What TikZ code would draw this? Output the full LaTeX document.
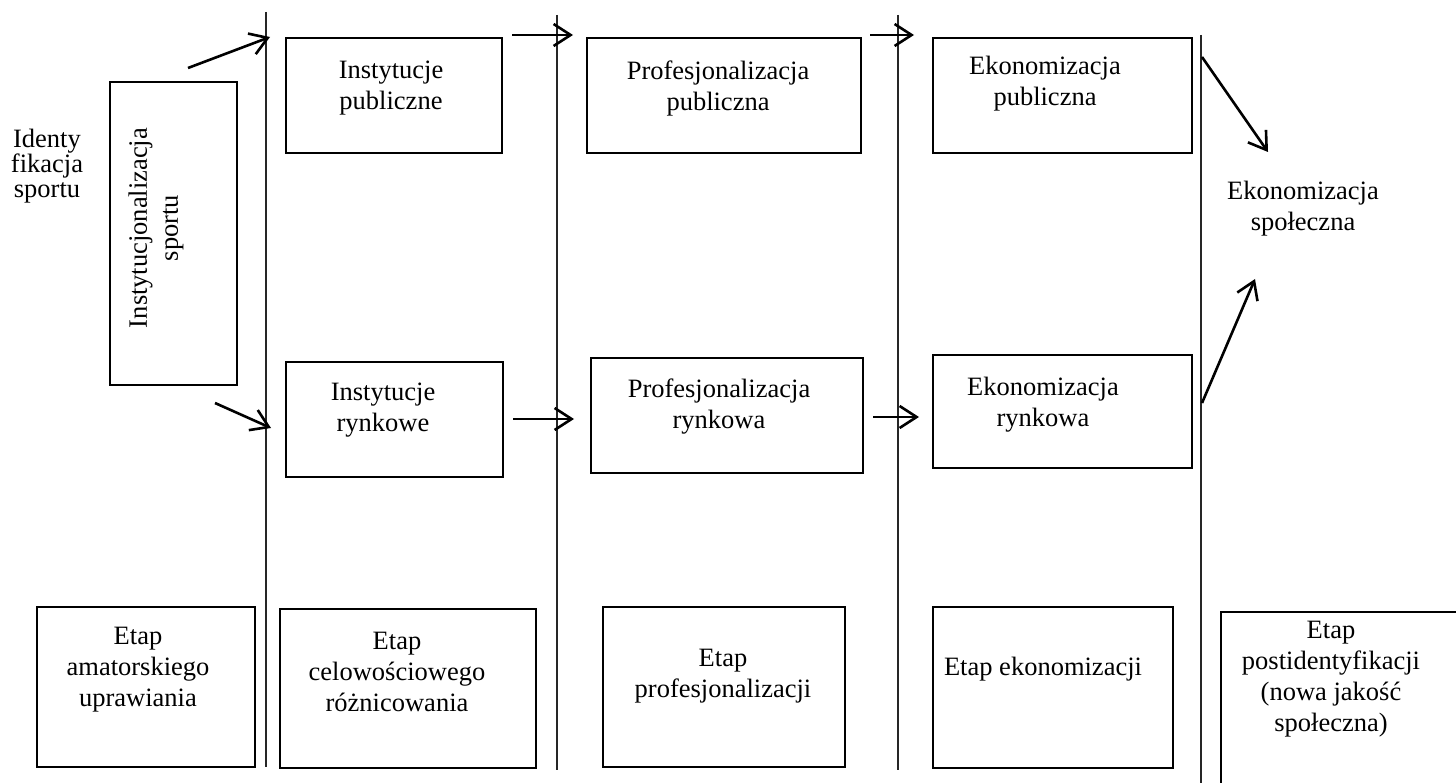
\documentclass[tikz,border=0pt]{standalone}
\usepackage{fontspec}
\setmainfont{Liberation Serif}
\usetikzlibrary{arrows.meta}
\tikzset{
  box/.style={draw, line width=2.8pt, inner sep=0pt, fill=none},
  txt/.style={align=center, inner sep=0pt, font=\fontsize{26.5}{31}\selectfont},
  sep/.style={line width=1.3pt, draw=black!85},
  arr/.style={line width=2.6pt, -{Straight Barb[length=17pt,width=22pt,line width=2.6pt]}}
}
\begin{document}
\begin{tikzpicture}[x=1pt,y=-1pt]
\useasboundingbox (0,0) rectangle (1456,783);
\clip (0,0) rectangle (1456,783);
\fill[white] (0,0) rectangle (1456,783);

% separators
\coordinate (v1t) at (266,12);  \coordinate (v1b) at (266,767);
\coordinate (v2t) at (557,15);  \coordinate (v2b) at (557,770);
\coordinate (v3t) at (898,15);  \coordinate (v3b) at (898,770);
\coordinate (v4t) at (1201,35); \coordinate (v4b) at (1201,790);
\draw[sep] (v1t) -- (v1b);
\draw[sep] (v2t) -- (v2b);
\draw[sep] (v3t) -- (v3b);
\draw[sep] (v4t) -- (v4b);

% left
\node[txt, font=\fontsize{26.5}{25}\selectfont] (ident) at (47,166) {Identy\\fikacja\\sportu};
\node[box, minimum width=127pt, minimum height=303pt] (inst) at (173.5,233.5) {};
\node[txt, rotate=90] (instt) at (156,228) {Instytucjonalizacja\\sportu};

% top row
\node[box, minimum width=216pt, minimum height=115pt] (b1) at (394,95.5) {};
\node[txt] (b1t) at (391,88) {Instytucje\\publiczne};
\node[box, minimum width=274pt, minimum height=115pt] (b2) at (724,95.5) {};
\node[txt] (b2t) at (718,88) {Profesjonalizacja\\publiczna};
\node[box, minimum width=259pt, minimum height=115pt] (b3) at (1062.5,95.5) {};
\node[txt] (b3t) at (1045,84) {Ekonomizacja\\publiczna};

% middle row
\node[box, minimum width=217pt, minimum height=115pt] (b4) at (394.5,419.5) {};
\node[txt] (b4t) at (383,410) {Instytucje\\rynkowe};
\node[box, minimum width=272pt, minimum height=115pt] (b5) at (727,415.5) {};
\node[txt] (b5t) at (719,407) {Profesjonalizacja\\rynkowa};
\node[box, minimum width=259pt, minimum height=113pt] (b6) at (1062.5,411.5) {};
\node[txt] (b6t) at (1043,405) {Ekonomizacja\\rynkowa};

% right
\node[txt] (spol) at (1303,209) {Ekonomizacja\\społeczna};

% bottom row
\node[box, minimum width=218pt, minimum height=160pt] (e1) at (146,687) {};
\node[txt] (e1t) at (138,670) {Etap\\amatorskiego\\uprawiania};
\node[box, minimum width=256pt, minimum height=159pt] (e2) at (408,688.5) {};
\node[txt] (e2t) at (397,672) {Etap\\celowościowego\\różnicowania};
\node[box, minimum width=242pt, minimum height=160pt] (e3) at (724,687) {};
\node[txt] (e3t) at (723,676) {Etap\\profesjonalizacji};
\node[box, minimum width=240pt, minimum height=161pt] (e4) at (1053,687.5) {};
\node[txt] (e4t) at (1043,669) {Etap ekonomizacji};
\node[box, minimum width=249pt, minimum height=188pt] (e5) at (1345.5,706) {};
\node[txt] (e5t) at (1331,679) {Etap\\postidentyfikacji\\(nowa jakość\\społeczna)};

% arrows
\coordinate (a1s) at (188,68);   \coordinate (a1e) at (270,37);
\coordinate (a2s) at (215,403);  \coordinate (a2e) at (271,428);
\coordinate (a3s) at (512,35);   \coordinate (a3e) at (573,35);
\coordinate (a4s) at (513,419);  \coordinate (a4e) at (574,419);
\coordinate (a5s) at (870,35);   \coordinate (a5e) at (914,35);
\coordinate (a6s) at (873,417);  \coordinate (a6e) at (919,417);
\coordinate (a7s) at (1202,57);  \coordinate (a7e) at (1268,152);
\coordinate (a8s) at (1202,403); \coordinate (a8e) at (1255,279);
\draw[arr] (a1s) -- (a1e);
\draw[arr] (a2s) -- (a2e);
\draw[arr] (a3s) -- (a3e);
\draw[arr] (a4s) -- (a4e);
\draw[arr] (a5s) -- (a5e);
\draw[arr] (a6s) -- (a6e);
\draw[arr] (a7s) -- (a7e);
\draw[arr] (a8s) -- (a8e);
\end{tikzpicture}
\end{document}
